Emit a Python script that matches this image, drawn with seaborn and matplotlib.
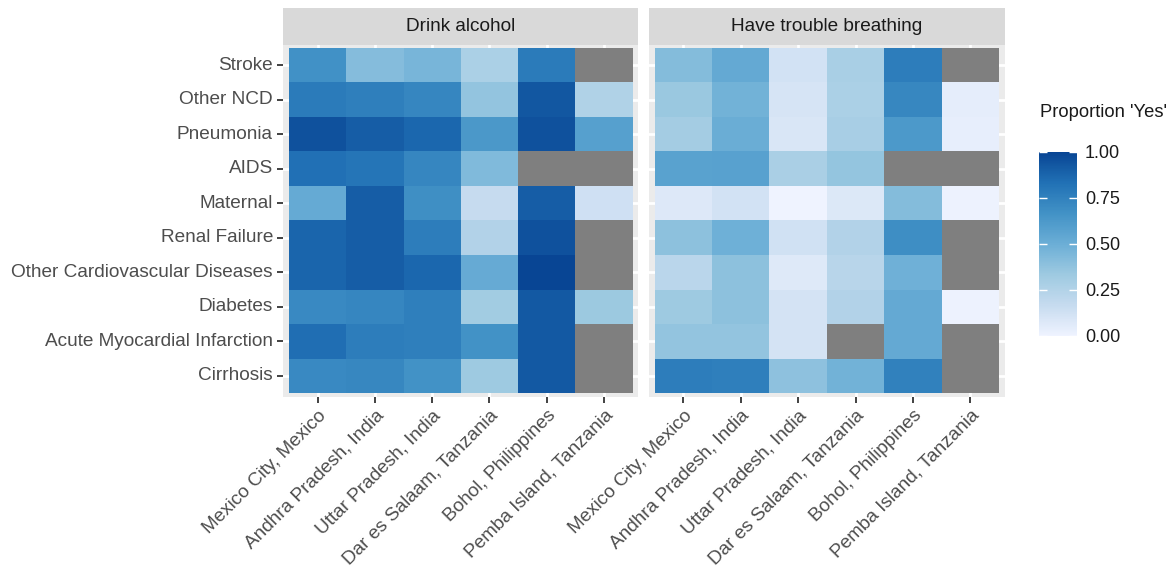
import numpy as np
import pandas as pd
import seaborn as sns
import matplotlib.pyplot as plt
from matplotlib.colors import LinearSegmentedColormap

causes = ["Stroke", "Other NCD", "Pneumonia", "AIDS", "Maternal", "Renal Failure",
          "Other Cardiovascular Diseases", "Diabetes", "Acute Myocardial Infarction", "Cirrhosis"]
sites = ["Mexico City, Mexico", "Andhra Pradesh, India", "Uttar Pradesh, India",
         "Dar es Salaam, Tanzania", "Bohol, Philippines", "Pemba Island, Tanzania"]
panels = ["Drink alcohol", "Have trouble breathing"]
nan = np.nan

# proportion 'Yes', rows = causes, cols = sites
alcohol = [
    [0.67, 0.415, 0.46, 0.28, 0.78, nan],
    [0.78, 0.76, 0.73, 0.37, 0.93, 0.26],
    [0.95, 0.91, 0.87, 0.63, 0.95, 0.585],
    [0.835, 0.81, 0.73, 0.43, nan, nan],
    [0.525, 0.91, 0.68, 0.17, 0.91, 0.13],
    [0.875, 0.91, 0.77, 0.25, 0.95, nan],
    [0.875, 0.91, 0.87, 0.52, 1.00, nan],
    [0.71, 0.73, 0.76, 0.32, 0.925, 0.34],
    [0.84, 0.77, 0.76, 0.665, 0.925, nan],
    [0.71, 0.72, 0.665, 0.335, 0.925, nan],
]
breathing = [
    [0.418, 0.53, 0.118, 0.288, 0.77, nan],
    [0.347, 0.477, 0.105, 0.28, 0.72, 0.04],
    [0.31, 0.505, 0.09, 0.29, 0.625, 0.035],
    [0.573, 0.575, 0.285, 0.366, nan, nan],
    [0.077, 0.118, 0.0, 0.08, 0.42, 0.01],
    [0.39, 0.49, 0.125, 0.25, 0.685, nan],
    [0.217, 0.39, 0.073, 0.225, 0.485, nan],
    [0.335, 0.39, 0.11, 0.25, 0.53, 0.01],
    [0.37, 0.37, 0.11, nan, 0.53, nan],
    [0.77, 0.76, 0.385, 0.477, 0.75, nan],
]

blues = ["#EFF3FF", "#C6DBEF", "#9ECAE1", "#6BAED6", "#4292C6", "#2171B5", "#084594"]
cmap = LinearSegmentedColormap.from_list("blues7", blues)
cmap.set_bad("#7F7F7F")

plt.rcParams['font.family'] = ['Liberation Sans', 'DejaVu Sans']

W, H = 1175, 567
fig = plt.figure(figsize=(W / 100, H / 100), dpi=100)

def box(x0, y0, x1, y1):
    return [x0 / W, 1 - y1 / H, (x1 - x0) / W, (y1 - y0) / H]

panel_x = [(283.3, 638.4), (649, 1004.7)]
cax = fig.add_axes(box(1039, 152, 1077, 336))

for i, (name, vals) in enumerate(zip(panels, [alcohol, breathing])):
    x0, x1 = panel_x[i]
    ax = fig.add_axes(box(x0, 44.5, x1, 396.5))
    df = pd.DataFrame(vals, index=causes, columns=sites)
    sns.heatmap(df, ax=ax, cmap=cmap, vmin=0, vmax=1, linewidths=0,
                cbar=(i == 0), cbar_ax=cax if i == 0 else None,
                cbar_kws={'ticks': [0, 0.25, 0.5, 0.75, 1.0]})
    ax.set_xlim(-0.1, 6.1)
    ax.set_ylim(10.1, -0.1)
    ax.set_facecolor("#EBEBEB")
    ax.set_axisbelow(True)
    ax.grid(True, color="white", linewidth=2.0)
    ax.set_xlabel("")
    ax.set_ylabel("")
    ax.set_xticklabels(sites, rotation=45, ha='right', va='top', rotation_mode='anchor')
    ax.tick_params(axis='both', colors='#333333', length=4.3, width=1.3,
                   labelcolor='#4D4D4D', labelsize=13.7, pad=3.2)
    if i == 0:
        ax.set_yticklabels(causes, rotation=0)
    else:
        ax.tick_params(axis='y', left=False, labelleft=False)

    sax = fig.add_axes(box(x0, 8, x1, 44.5))
    sax.set_facecolor("#D9D9D9")
    sax.set_xticks([])
    sax.set_yticks([])
    for s in sax.spines.values():
        s.set_visible(False)
    sax.text(0.5, 0.5, name, ha='center', va='center', fontsize=13.7,
             color='#1A1A1A', transform=sax.transAxes)

cax.set_yticklabels(["0.00", "0.25", "0.50", "0.75", "1.00"])
cax.tick_params(axis='y', which='both', direction='in', left=True, right=True,
                labelleft=False, labelright=True, color='white', length=5.5,
                width=1, labelsize=13, labelcolor='#1A1A1A', pad=5.8)
cax.minorticks_off()
fig.text(1040 / W, 1 - 113 / H, "Proportion 'Yes'", ha='left', va='center',
         fontsize=13.2, color='#1A1A1A')

fig.savefig("out.png", dpi=100)
